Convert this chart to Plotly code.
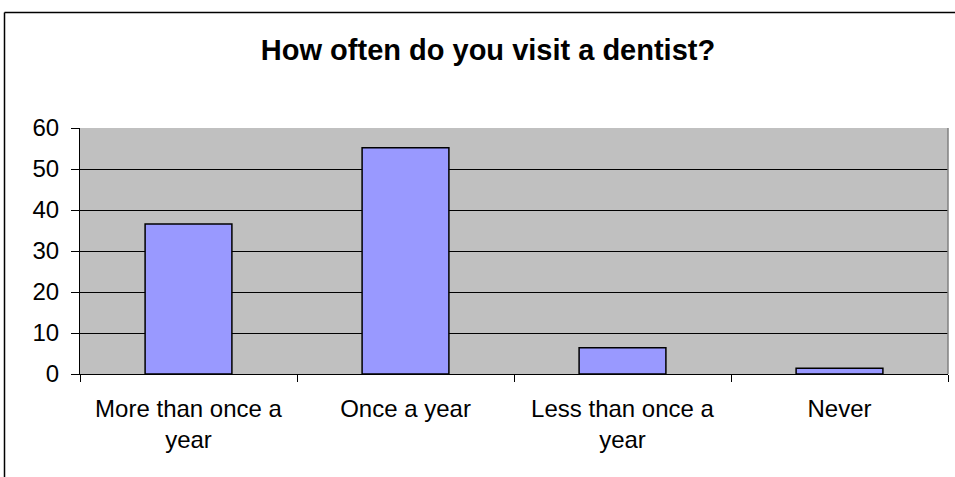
import plotly.graph_objects as go

categories = ["More than once a<br>year", "Once a year", "Less than once a<br>year", "Never"]
values = [36.6, 55.2, 6.4, 1.4]
y_ticks = [0, 10, 20, 30, 40, 50, 60]

W, H = 955, 477
L, R, T, B = 80, 7, 128, 103
pw, ph = W - L - R, H - T - B

def px_x(p):
    return (p - L) / pw

def px_y(p):
    return (H - B - p) / ph

FONT = "Arial, Liberation Sans, sans-serif"

fig = go.Figure(
    go.Bar(
        x=categories,
        y=values,
        marker=dict(color="#9999FF", line=dict(color="black", width=1.5)),
        hoverinfo="skip",
    )
)

fig.update_layout(
    width=W,
    height=H,
    margin=dict(l=L, r=R, t=T, b=B, pad=0),
    paper_bgcolor="white",
    plot_bgcolor="#C0C0C0",
    bargap=0.6,
    showlegend=False,
    font=dict(family=FONT, color="black"),
    title=dict(
        text="<b>How often do you visit a dentist?</b>",
        font=dict(family=FONT, size=29, color="black"),
        xref="container",
        x=488 / W,
        xanchor="center",
        yref="container",
        y=1 - 50 / H,
        yanchor="middle",
    ),
    xaxis=dict(
        showgrid=False,
        showline=True,
        linecolor="black",
        linewidth=1,
        ticks="outside",
        ticklen=7,
        tickcolor="black",
        tickson="boundaries",
        ticklabelstandoff=13,
        tickfont=dict(family=FONT, size=24, color="black"),
        fixedrange=True,
    ),
    yaxis=dict(
        range=[0, 60],
        tickvals=y_ticks,
        showgrid=True,
        gridcolor="black",
        gridwidth=1,
        showline=True,
        linecolor="black",
        linewidth=1,
        ticks="outside",
        ticklen=8,
        tickcolor="black",
        ticklabelstandoff=7,
        tickfont=dict(family=FONT, size=24, color="black"),
        zeroline=False,
        fixedrange=True,
    ),
    shapes=[
        # plot area border (right edge)
        dict(type="line", xref="paper", yref="paper", x0=1, x1=1, y0=0, y1=1,
             line=dict(color="#808080", width=1.5)),
        # chart frame
        dict(type="line", xref="paper", yref="paper",
             x0=px_x(4.5), x1=px_x(4.5), y0=px_y(12.5), y1=px_y(495),
             line=dict(color="black", width=1.5)),
        dict(type="line", xref="paper", yref="paper",
             x0=px_x(4.5), x1=px_x(975), y0=px_y(12.5), y1=px_y(12.5),
             line=dict(color="black", width=1.5)),
    ],
)

fig.write_html(
    "out.html",
    config={"displayModeBar": False},
    post_script="document.body.style.margin='0';document.body.style.overflow='hidden';",
)
